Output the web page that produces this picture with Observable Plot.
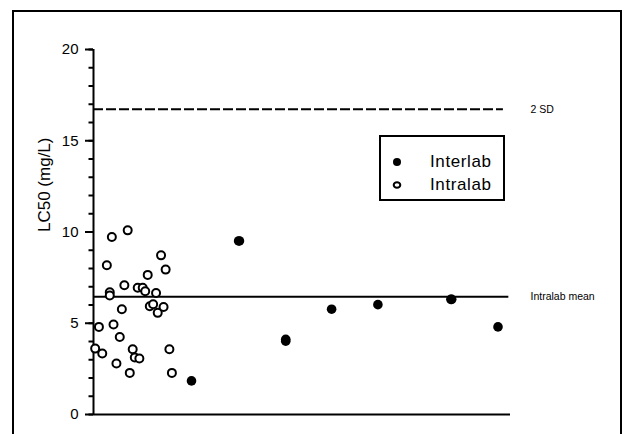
<!DOCTYPE html>
<html>
<head>
<meta charset="utf-8">
<script src="https://cdn.jsdelivr.net/npm/d3@7"></script>
<script src="https://cdn.jsdelivr.net/npm/@observablehq/plot@0.6"></script>
<style>
  html, body { margin: 0; padding: 0; background: #fff; }
  #wrap { position: relative; width: 626px; height: 434px; overflow: hidden; font-family: "Liberation Sans", Arial, sans-serif; }
  #wrap svg.plot { position: absolute; left: 0; top: 0; }
  #outer { position: absolute; left: 12px; top: 10px; width: 610px; height: 500px; border: 2px solid #000; box-sizing: border-box; pointer-events: none; }
  #legend { position: absolute; left: 379px; top: 135px; width: 126px; height: 66px; border: 2px solid #000; box-sizing: border-box; background: #fff; }
  #legend .row { position: absolute; left: 0; height: 22px; width: 122px; }
  #legend svg { position: absolute; left: 9px; top: 4px; }
  #legend span { position: absolute; left: 49px; top: 0; font-size: 17px; letter-spacing: 0.6px; line-height: 22px; color: #000; }
</style>
</head>
<body>
<div id="wrap">
  <div id="chart"></div>
  <div id="outer"></div>
  <div id="legend"></div>
</div>
<script>
// Intralab (open circles): sample position and LC50 (mg/L)
const intraX = [0.4, 1.3, 2.1, 3.2, 3.9, 3.9, 4.4, 4.8, 5.5, 6.3, 6.8, 7.4, 8.2, 8.7, 9.4, 9.9, 11.0, 10.6, 11.8, 12.4, 13.0, 13.5, 14.3, 15.0, 15.4, 16.2, 16.8, 17.3, 18.2, 18.8];
const intraY = [3.61, 4.80, 3.34, 8.18, 6.70, 6.52, 9.73, 4.93, 2.79, 4.25, 5.77, 7.08, 10.09, 2.28, 3.58, 3.12, 3.07, 6.95, 6.95, 6.75, 7.65, 5.93, 6.04, 6.66, 5.57, 8.72, 5.89, 7.94, 3.58, 2.28];
// Interlab (filled circles)
const interX = [23.5, 34.8, 35.0, 46.1, 46.1, 57.1, 68.2, 85.7, 85.9, 97.0];
const interY = [1.84, 9.51, 9.51, 4.02, 4.12, 5.77, 6.02, 6.31, 6.31, 4.80];
// Reference lines
const refNames = ["2 SD", "Intralab mean"];
const refValues = [16.73, 6.45];
const refEnds = [98.3, 99.6];
// Axis ticks
const majorTicks = [0, 5, 10, 15, 20];
const minorTicks = d3.range(0, 21, 1);
const legendLabels = ["Interlab", "Intralab"];
const yLabel = "LC50 (mg/L)";

const intra = intraX.map((x, i) => ({x, y: intraY[i]}));
const inter = interX.map((x, i) => ({x, y: interY[i]}));
const refs = refNames.map((name, i) => ({name, value: refValues[i], end: refEnds[i]}));

const plot = Plot.plot({
  width: 626,
  height: 434,
  marginLeft: 93,
  marginRight: 116,
  marginTop: 49,
  marginBottom: 20,
  style: {fontFamily: "'Liberation Sans', Arial, sans-serif", background: "transparent", color: "#000"},
  x: {domain: [0, 100], axis: null},
  y: {domain: [0, 20]},
  marks: [
    Plot.axisY({ticks: minorTicks, tickSize: 4.5, text: null, label: null, strokeWidth: 2}),
    Plot.axisY({ticks: majorTicks, tickSize: 8, tickPadding: 7, fontSize: 15, label: null, strokeWidth: 2}),
    Plot.ruleX([0], {y1: 0, y2: 20, strokeWidth: 2}),
    Plot.ruleY([0], {x1: 0, x2: 100, strokeWidth: 2}),
    Plot.ruleY([refs[0]], {y: "value", x1: 0, x2: "end", strokeWidth: 2, strokeDasharray: "10,3"}),
    Plot.ruleY([refs[1]], {y: "value", x1: 0, x2: "end", strokeWidth: 2}),
    Plot.text(refs, {x: 100, y: "value", text: "name", dx: 20, textAnchor: "start", fontSize: 10.5}),
    Plot.dot(intra, {x: "x", y: "y", r: 4, stroke: "#000", strokeWidth: 2, fill: "#fff"}),
    Plot.dot(inter, {x: "x", y: "y", r: 4.8, fill: "#000", stroke: "none"}),
    Plot.text([yLabel], {frameAnchor: "left", rotate: -90, dx: -49, fontSize: 17, text: d => d, lineAnchor: "middle"})
  ]
});
document.getElementById("chart").appendChild(plot);

// Legend (box in upper right of plot area)
const legend = document.getElementById("legend");
legendLabels.forEach((label, i) => {
  const row = document.createElement("div");
  row.className = "row";
  row.style.top = (i === 0 ? 14 : 37) + "px";
  const svg = i === 0
    ? '<svg width="14" height="14"><circle cx="7" cy="7" r="4" fill="#000"/></svg>'
    : '<svg width="14" height="14"><ellipse cx="7" cy="7" rx="3.3" ry="2.8" fill="#fff" stroke="#000" stroke-width="2"/></svg>';
  row.innerHTML = svg + '<span>' + label + '</span>';
  legend.appendChild(row);
});
</script>
</body>
</html>
